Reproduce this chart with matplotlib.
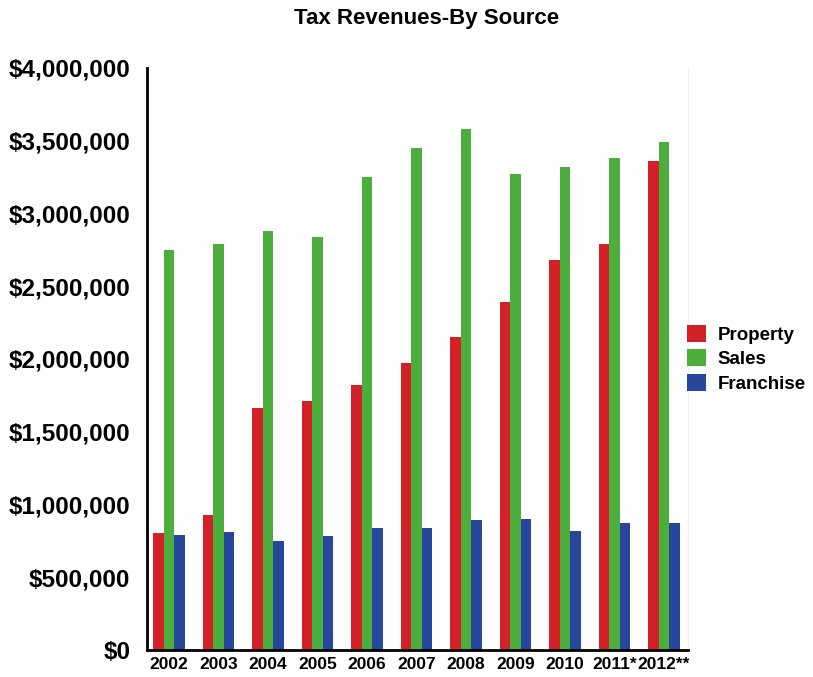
import numpy as np
import matplotlib.pyplot as plt
from matplotlib.ticker import FuncFormatter

years = ["2002", "2003", "2004", "2005", "2006", "2007", "2008", "2009", "2010", "2011*", "2012**"]
property_tax = [800000, 925000, 1660000, 1710000, 1820000, 1970000, 2150000, 2390000, 2680000, 2790000, 3360000]
sales_tax = [2750000, 2790000, 2880000, 2840000, 3250000, 3450000, 3580000, 3270000, 3320000, 3380000, 3490000]
franchise_tax = [790000, 810000, 750000, 780000, 840000, 840000, 890000, 900000, 820000, 870000, 870000]

plt.rcParams['font.family'] = ['Liberation Sans', 'DejaVu Sans']

fig = plt.figure(figsize=(8.13, 6.77), dpi=100)
ax = fig.add_axes([0.181, 0.040, 0.665, 0.860])

x = np.arange(len(years))
w = 0.21
b1 = ax.bar(x - w, property_tax, w, color="#d42027", label="Property")
b2 = ax.bar(x, sales_tax, w, color="#4cae3c", label="Sales")
b3 = ax.bar(x + w, franchise_tax, w, color="#27479d", label="Franchise")

ax.set_xlim(-0.44, 10.48)
ax.set_ylim(0, 4000000)
ax.set_yticks(np.arange(0, 4000001, 500000))
ax.yaxis.set_major_formatter(FuncFormatter(lambda v, p: "${:,.0f}".format(v)))
ax.set_xticks(x)
ax.set_xticklabels(years)
ax.tick_params(axis="y", length=0, pad=12, labelsize=17.5)
ax.tick_params(axis="x", length=0, pad=5, labelsize=12.5)
for lab in ax.get_xticklabels() + ax.get_yticklabels():
    lab.set_fontweight("bold")

ax.spines["top"].set_visible(False)
ax.spines["right"].set_color("#eeeeee")
ax.spines["left"].set_linewidth(2)
ax.spines["bottom"].set_linewidth(2)

fig.text(0.525, 0.973, "Tax Revenues-By Source", ha="center", va="center",
         fontsize=16, fontweight="bold")

fig.legend(handles=[b1, b2, b3], loc="center left", bbox_to_anchor=(0.838, 0.47),
           frameon=False, handlelength=1.0, handleheight=1.0, handletextpad=0.65,
           labelspacing=0.3, borderaxespad=0, borderpad=0.3,
           prop={"weight": "bold", "size": 13.5})

plt.savefig("out.png", dpi=100)
